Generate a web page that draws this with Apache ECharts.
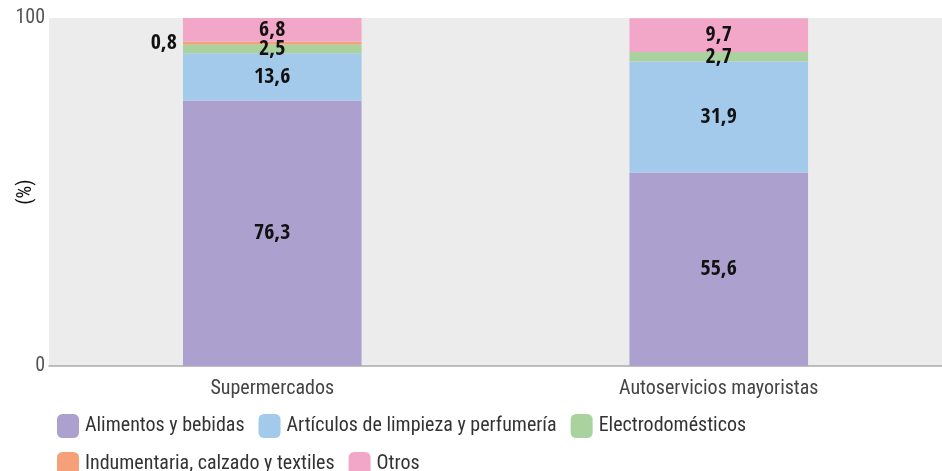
<!DOCTYPE html>
<html>
<head>
<meta charset="utf-8">
<script src="https://cdn.jsdelivr.net/npm/echarts@6/dist/echarts.min.js"></script>
<style>
  html, body { margin: 0; padding: 0; background: #fff; }
  #main { width: 942px; height: 471px; }
</style>
</head>
<body>
<div id="main"></div>
<script>
// datos del gráfico
var categorias = ['Supermercados', 'Autoservicios mayoristas'];
var alimentos = [76.3, 55.6];
var limpieza = [13.6, 31.9];
var electro = [2.5, 2.7];
var indumentaria = [0.8, 0];
var otros = [6.8, 9.7];
var yTicks = [0, 100];

var nombres = ['Alimentos y bebidas', 'Artículos de limpieza y perfumería', 'Electrodomésticos',
  'Indumentaria, calzado y textiles', 'Otros'];
var colores = ['#aca0cf', '#a3c9eb', '#a9d29e', '#f5a078', '#f2a7c9'];
var fuente = '"Roboto Condensed", sans-serif';
var fuenteEtiqueta = '"Open Sans Condensed", "Roboto Condensed", sans-serif';

function serie(i, datos) {
  return {
    name: nombres[i],
    type: 'bar',
    stack: 'total',
    barWidth: '40%',
    itemStyle: { color: colores[i] },
    data: datos.map(function (v, j) {
      var item = { value: v };
      // la etiqueta 0,8 va afuera, a la izquierda de la barra
      if (i === 3 && j === 0) {
        item.label = { position: 'left', distance: 6 };
      }
      return item;
    }),
    label: {
      show: true,
      position: 'inside',
      color: '#111',
      fontFamily: fuenteEtiqueta,
      fontWeight: 'bold',
      fontSize: 22,
      formatter: function (p) {
        return p.value ? String(p.value).replace('.', ',') : '';
      }
    }
  };
}

var myChart = echarts.init(document.getElementById('main'));
var option = {
  animation: false,
  grid: {
    left: 49, right: 0, top: 18, bottom: 105,
    outerBoundsMode: 'none', containLabel: false,
    show: true, backgroundColor: '#ececec', borderWidth: 0
  },
  legend: {
    left: 52, top: 409, width: 720,
    itemWidth: 22, itemHeight: 24, itemGap: 14,
    icon: 'roundRect',
    textStyle: { fontFamily: fuente, fontSize: 20, color: '#333', padding: [0, 0, 0, 1] },
    data: nombres
  },
  xAxis: {
    type: 'category',
    data: categorias,
    axisLine: { lineStyle: { color: '#aaa', width: 1.5 } },
    axisTick: { show: false },
    axisLabel: { fontFamily: fuente, fontSize: 20, color: '#444', margin: 13 }
  },
  yAxis: {
    type: 'value',
    min: yTicks[0], max: yTicks[1], interval: yTicks[1] - yTicks[0],
    name: '(%)', nameLocation: 'middle', nameRotate: 90, nameGap: 13,
    nameMoveOverlap: false,
    nameTextStyle: { fontFamily: fuente, fontSize: 20, color: '#111' },
    axisLine: { show: false },
    axisTick: { show: false },
    splitLine: { show: false },
    axisLabel: { fontFamily: fuente, fontSize: 20, color: '#555', margin: 4 }
  },
  series: [
    serie(0, alimentos),
    serie(1, limpieza),
    serie(2, electro),
    serie(3, indumentaria),
    serie(4, otros)
  ]
};
myChart.setOption(option);
</script>
</body>
</html>
